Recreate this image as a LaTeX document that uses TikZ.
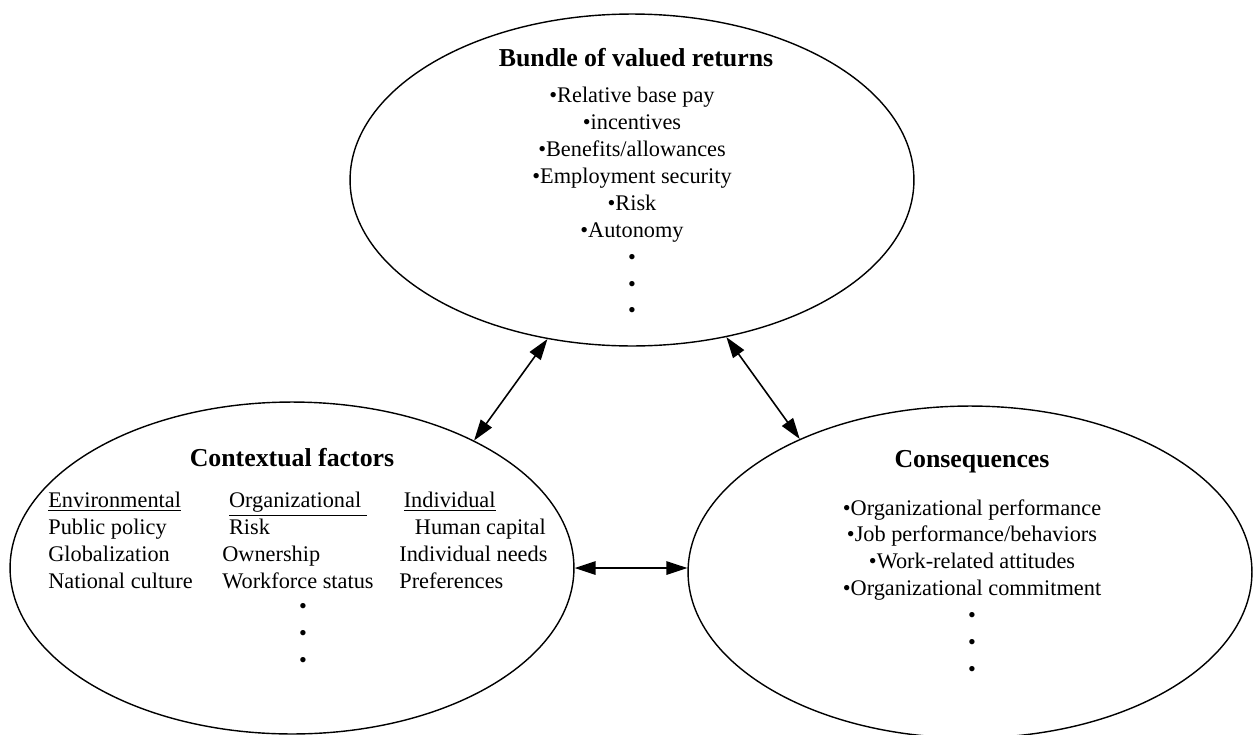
\documentclass[tikz,border=0pt]{standalone}
\usepackage{fontspec}
\setmainfont{Liberation Serif}
\usepackage{tikz}
\usetikzlibrary{shapes.geometric, arrows.meta, positioning}

\newcommand{\itm}{\textbullet}
\newcommand{\gap}{\textbullet}

\begin{document}
\begin{tikzpicture}[x=0.02cm, y=-0.02cm,
    blob/.style={ellipse, draw, line width=0.8pt, minimum width=11.28cm,
                 minimum height=6.64cm, inner sep=0pt},
    head/.style={font=\fontsize{14.7}{17}\selectfont\bfseries, inner sep=0pt},
    body/.style={font=\fontsize{12.7}{15.3}\selectfont, inner sep=0pt},
    link/.style={{Triangle[length=0.42cm,width=0.27cm]}-{Triangle[length=0.42cm,width=0.27cm]},
                 line width=0.9pt}]
  \useasboundingbox (0,0) rectangle (1254,734);

  % Ellipses
  \node[blob] (returns) at (632,180) {};
  \node[blob] (context) at (292,568) {};
  \node[blob] (conseq)  at (970,572) {};

  % Bundle of valued returns
  \node[head] (returnsTitle) at (636,58) {Bundle of valued returns};
  \node[body, anchor=north, align=center] (returnsList) at (632,87)
       {\itm Relative base pay\\ \itm incentives\\ \itm Benefits/allowances\\
        \itm Employment security\\ \itm Risk\\ \itm Autonomy\\ \gap\\ \gap\\ \gap};

  % Contextual factors
  \node[head] (contextTitle) at (292,458) {Contextual factors};
  \node[body, anchor=north west, align=left] (envCol) at (48,492)
       {\underline{Environmental}\\ Public policy\\ Globalization\\ National culture};
  \node[body, anchor=north west, align=left] (orgCol) at (222,492)
       {\hspace*{0.3em}\underline{Organizational\ }\\ \hspace*{0.3em}Risk\\ Ownership\\ Workforce status};
  \node[body, anchor=north west, align=left] (indCol) at (399,492)
       {\hspace*{0.2em}\underline{Individual}\\ \hspace*{0.7em}Human capital\\ Individual needs\\ Preferences};
  \node[body, anchor=north, align=center] (ctxDots) at (303,603) {\gap\\ \gap\\ \gap};

  % Consequences
  \node[head] (conseqTitle) at (972,462) {Consequences};
  \node[body, anchor=north, align=center] (conseqList) at (972,499)
       {\itm Organizational performance\\ \itm Job performance/behaviors\\
        \itm Work-related attitudes\\ \itm Organizational commitment\\ \gap\\ \gap\\ \gap};

  % Two-way links
  \draw[link] (returns.242) -- (context.35);
  \draw[link] (returns.301) -- (conseq.142);
  \draw[link] (context.east) -- (context.east -| conseq.west);
\end{tikzpicture}
\end{document}
